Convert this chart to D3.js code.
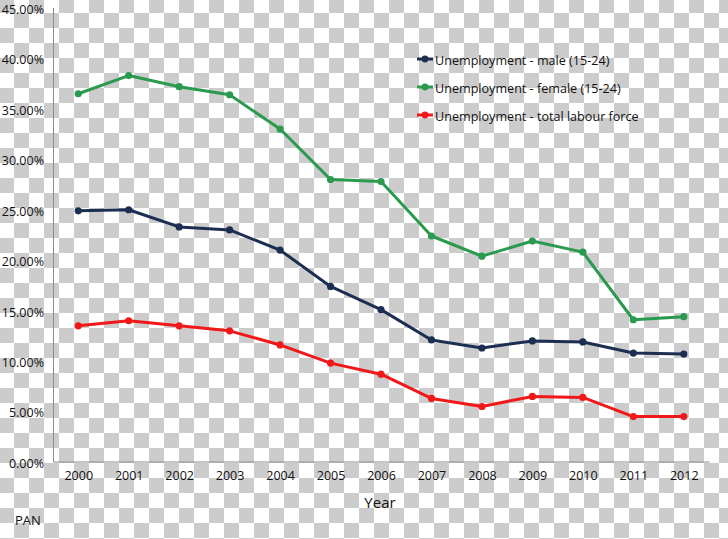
<!DOCTYPE html>
<html><head><meta charset="utf-8">
<script src="https://cdnjs.cloudflare.com/ajax/libs/d3/7.8.5/d3.min.js"></script>
<style>html,body{margin:0;padding:0;background:#fff;}svg{display:block;}</style>
</head><body>
<script>
const years = ["2000","2001","2002","2003","2004","2005","2006","2007","2008","2009","2010","2011","2012"];
const male   = [25.0, 25.1, 23.4, 23.1, 21.1, 17.5, 15.2, 12.2, 11.4, 12.1, 12.0, 10.9, 10.8];
const female = [36.6, 38.4, 37.3, 36.5, 33.1, 28.1, 27.9, 22.5, 20.5, 22.0, 20.9, 14.2, 14.5];
const total  = [13.6, 14.1, 13.6, 13.1, 11.7,  9.9,  8.8,  6.4,  5.6,  6.6,  6.5,  4.6,  4.6];
const seriesNames = ["Unemployment - male (15-24)", "Unemployment - female (15-24)", "Unemployment - total labour force"];
const seriesColors = ["#1c2f52", "#2a9a4f", "#f01818"];
const yTicks = [0,5,10,15,20,25,30,35,40,45];

const W = 728, H = 539;
const svg = d3.select("body").append("svg").attr("width", W).attr("height", H);
const font = "'Open Sans', 'DejaVu Sans', sans-serif";

// checkerboard transparency background
const defs = svg.append("defs");
const pat = defs.append("pattern").attr("id","chk").attr("patternUnits","userSpaceOnUse")
  .attr("width",30).attr("height",30).attr("x",-1).attr("y",-2);
pat.append("rect").attr("width",30).attr("height",30).attr("fill","#ffffff");
pat.append("rect").attr("x",0).attr("y",0).attr("width",15).attr("height",15).attr("fill","#cccccc");
pat.append("rect").attr("x",15).attr("y",15).attr("width",15).attr("height",15).attr("fill","#cccccc");
svg.append("rect").attr("width",W).attr("height",H).attr("fill","url(#chk)");

const x = d3.scalePoint().domain(years).range([53, 709]).padding(0.5);
const y = d3.scaleLinear().domain([0, 45]).range([463, 9]);

// axes
const yAxis = svg.append("g").attr("transform","translate(53,0)")
  .call(d3.axisLeft(y).tickValues(yTicks).tickSize(0).tickPadding(9).tickFormat(d => d.toFixed(2) + "%"));
yAxis.select(".domain").attr("stroke","#8c8c8c").attr("stroke-width",1).attr("d","M0.5,8V462");
yAxis.selectAll("text").attr("font-family",font).attr("font-size",12.5).attr("fill","#111").attr("dy","0.35em").attr("y",0);

const xAxis = svg.append("g").attr("transform","translate(0,461.5)")
  .call(d3.axisBottom(x).tickSize(0).tickPadding(10));
xAxis.select(".domain").attr("stroke","#8c8c8c").attr("stroke-width",1);
xAxis.selectAll("text").attr("font-family",font).attr("font-size",12.5).attr("fill","#111");

svg.append("text").attr("x", 380).attr("y", 508).attr("text-anchor","middle")
  .attr("font-family",font).attr("font-size",15).attr("fill","#111").text("Year");
svg.append("text").attr("x", 15).attr("y", 525)
  .attr("font-family",font).attr("font-size",13).attr("fill","#111").text("PAN");

const allSeries = [male, female, total];
const line = d3.line().x((d,i) => x(years[i])).y(d => y(d));

allSeries.forEach((vals, k) => {
  const g = svg.append("g");
  g.append("path").datum(vals).attr("d", line).attr("fill","none")
    .attr("stroke", seriesColors[k]).attr("stroke-width",3).attr("stroke-linejoin","round");
  g.selectAll("circle").data(vals).join("circle")
    .attr("cx",(d,i)=>x(years[i])).attr("cy",d=>y(d)).attr("r",3.6).attr("fill",seriesColors[k]);
});

// legend
const lg = svg.append("g");
seriesNames.forEach((name, k) => {
  const cy = 61 + k * 28;
  lg.append("line").attr("x1",417).attr("x2",433).attr("y1",cy-2).attr("y2",cy-2)
    .attr("stroke",seriesColors[k]).attr("stroke-width",3);
  lg.append("circle").attr("cx",425).attr("cy",cy-2).attr("r",3.4).attr("fill",seriesColors[k]);
  lg.append("text").attr("x",435).attr("y",cy).attr("dy","0.35em")
    .attr("font-family",font).attr("font-size",12.6).attr("fill","#111").text(name);
});
</script>
</body></html>
